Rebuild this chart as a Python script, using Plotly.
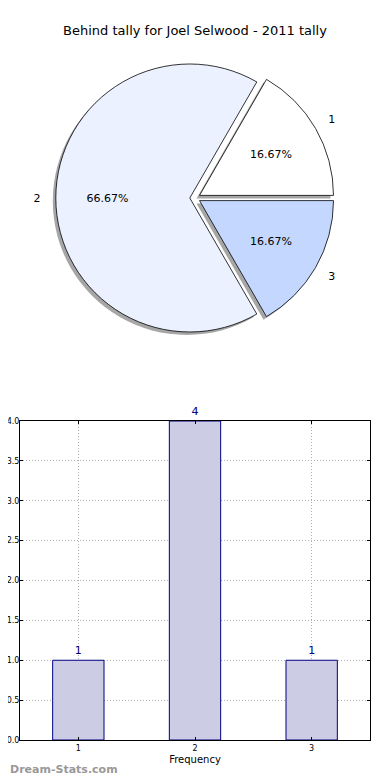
import plotly.graph_objects as go

# ---- data ----
title_text = "Behind tally for Joel Selwood - 2011 tally"
categories = ["1", "2", "3"]
counts = [1, 4, 1]
pie_colors = ["#ffffff", "#ebf1ff", "#c4d8ff"]
y_ticks = [0.0, 0.5, 1.0, 1.5, 2.0, 2.5, 3.0, 3.5, 4.0]
x_label = "Frequency"
watermark = "Dream-Stats.com"

# ---- layout constants (the page body adds an 8px margin) ----
OFF = 8
W, H = 390 - 2 * OFF, 780 - OFF
FONT = "DejaVu Sans"
CX, CY = 195 - OFF, 198 - OFF   # pie centre (figure px)
R = 134                         # pie radius (px)
PULL_PX = 5.2                   # explode offset (px)


def dom(cx, cy, radius, pull):
    half = radius * (1 + pull)
    return dict(x=[(cx - half) / W, (cx + half) / W],
                y=[1 - (cy + half) / H, 1 - (cy - half) / H])


def px_x(v):
    return (v - OFF) / W


def px_y(v):
    return 1 - (v - OFF) / H


common = dict(labels=categories, values=counts, sort=False,
              direction="counterclockwise", rotation=30)

fig = go.Figure()

# shadow
p = PULL_PX / R
fig.add_trace(go.Pie(**common, domain=dom(CX - 3, CY + 3, R, p), pull=[p] * 3,
                     marker=dict(colors=["rgba(77,77,77,0.5)"] * 3, line=dict(width=0)),
                     textinfo="none", hoverinfo="skip", showlegend=False))
# main pie
fig.add_trace(go.Pie(**common, domain=dom(CX, CY, R, p), pull=[p] * 3,
                     marker=dict(colors=pie_colors, line=dict(color="black", width=0.8)),
                     textinfo="none", hoverinfo="label+percent", showlegend=False))
# percentage overlay (ring centred at ~0.62 R)
R3 = 0.82 * R
p3 = PULL_PX / R3
fig.add_trace(go.Pie(**common, domain=dom(CX, CY, R3, p3), pull=[p3] * 3, hole=0.5,
                     marker=dict(colors=["rgba(0,0,0,0)"] * 3, line=dict(width=0)),
                     texttemplate="%{percent:.2%}", textposition="inside",
                     insidetextorientation="horizontal",
                     textfont=dict(family=FONT, size=11, color="black"),
                     hoverinfo="skip", showlegend=False))
# label overlay (ring centred at ~1.14 R)
R4 = 1.24 * R
p4 = PULL_PX / R4
fig.add_trace(go.Pie(**common, domain=dom(CX, CY, R4, p4), pull=[p4] * 3, hole=1.04 / 1.24,
                     marker=dict(colors=["rgba(0,0,0,0)"] * 3, line=dict(width=0)),
                     texttemplate="%{label}", textposition="inside",
                     insidetextorientation="horizontal",
                     textfont=dict(family=FONT, size=11, color="black"),
                     hoverinfo="skip", showlegend=False))

# bar chart
fig.add_trace(go.Bar(x=categories, y=counts, width=0.44,
                     marker=dict(color="rgb(204,204,229)", line=dict(color="#000080", width=1)),
                     hoverinfo="x+y", showlegend=False))
fig.add_trace(go.Scatter(x=categories, y=counts, mode="markers+text",
                         marker=dict(size=4, color="rgba(0,0,0,0)"),
                         text=[str(c) for c in counts], textposition="top center",
                         textfont=dict(family=FONT, size=11, color="#000080"),
                         cliponaxis=False, hoverinfo="skip", showlegend=False))

grid = dict(showgrid=True, gridcolor="#b0b0b0", griddash="1px,2px", gridwidth=1)

fig.update_layout(
    width=W, height=H,
    margin=dict(l=0, r=0, t=0, b=0, autoexpand=False),
    paper_bgcolor="white", plot_bgcolor="white",
    font=dict(family=FONT, color="black"),
    title=dict(text=title_text, x=px_x(195), xanchor="center",
               y=px_y(30), yanchor="middle",
               font=dict(family=FONT, size=13, color="black")),
    xaxis=dict(domain=[px_x(20), px_x(370)], type="category", range=[-0.5, 2.5],
               automargin=False,
               showline=True, linecolor="black", linewidth=1, mirror="ticks",
               ticks="inside", ticklen=3, tickcolor="black",
               tickfont=dict(family=FONT, size=8),
               title=dict(text=x_label, font=dict(family=FONT, size=10), standoff=4),
               zeroline=False, fixedrange=True, **grid),
    yaxis=dict(domain=[px_y(740), px_y(421)], range=[0, 4],
               automargin=False,
               tickvals=y_ticks, tickformat=".1f",
               showline=True, linecolor="black", linewidth=1, mirror="ticks",
               ticks="inside", ticklen=3, tickcolor="black",
               ticklabelstandoff=-2,
               tickfont=dict(family=FONT, size=8), zeroline=False, fixedrange=True,
               **grid),
    annotations=[dict(text=watermark, xref="paper", yref="paper", x=0, y=px_y(769),
                      xanchor="left", yanchor="middle", showarrow=False,
                      font=dict(family=FONT, size=11, color="#999999", weight="bold"))],
)

fig.write_html("out.html")
